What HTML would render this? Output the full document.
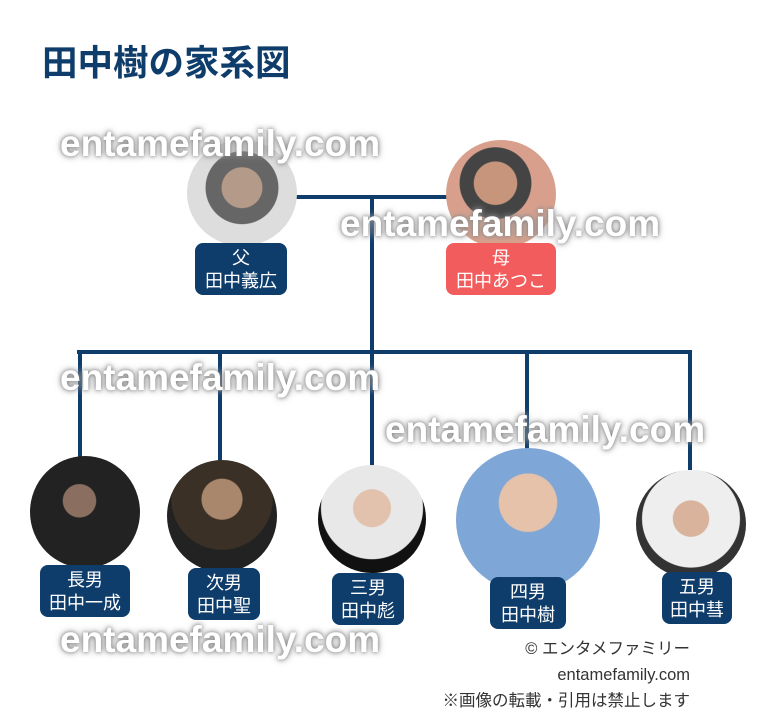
<!DOCTYPE html>
<html><head><meta charset="utf-8"><style>
body{margin:0;width:780px;height:727px;background:#fff;position:relative;overflow:hidden;font-family:"Liberation Sans","Noto Sans CJK JP",sans-serif}
.a{position:absolute}
.c{position:absolute;border-radius:50%;overflow:hidden}
.l{position:absolute;background:#0f3d6b;color:#fff;text-align:center;font-size:18px;line-height:23px;border-radius:8px;padding:3px 0;font-family:"Noto Sans CJK JP",sans-serif}
.r{background:#f25c5c}
.wm{position:absolute;font-size:37px;font-weight:bold;color:#fff;text-shadow:0 0 4px #777,0 0 8px #aaa;font-family:"Liberation Sans",sans-serif}
.ln{position:absolute;background:#0f3d6b}
</style></head><body>
<div class="a" style="left:42px;top:36px;font-size:35.5px;font-weight:bold;color:#0f3d6b;font-family:'Noto Sans CJK JP',sans-serif;line-height:50px">田中樹の家系図</div>
<div class="ln" style="left:290px;top:195px;width:160px;height:4px"></div>
<div class="ln" style="left:370px;top:195px;width:4px;height:160px"></div>
<div class="ln" style="left:77px;top:350px;width:615px;height:4px"></div>
<div class="ln" style="left:78px;top:350px;width:4px;height:110px"></div>
<div class="ln" style="left:218px;top:350px;width:4px;height:115px"></div>
<div class="ln" style="left:370px;top:350px;width:4px;height:120px"></div>
<div class="ln" style="left:525px;top:350px;width:4px;height:100px"></div>
<div class="ln" style="left:688px;top:350px;width:4px;height:120px"></div>
<div class="c" style="left:187px;top:140px;width:110px;height:106px;background:radial-gradient(circle at 50% 45%,#b49a88 0 25%,#666 26% 45%,#ddd 46%)"></div>
<div class="c" style="left:446px;top:140px;width:110px;height:108px;background:radial-gradient(circle at 45% 40%,#c7957c 0 24%,#444 25% 40%,#d8a08c 41%)"></div>
<div class="c" style="left:30px;top:456px;width:110px;height:112px;background:radial-gradient(circle at 45% 40%,#8a6e60 0 18%,#222 19%)"></div>
<div class="c" style="left:167px;top:460px;width:110px;height:112px;background:radial-gradient(circle at 50% 35%,#a8876c 0 22%,#3a3026 23% 55%,#222 56%)"></div>
<div class="c" style="left:318px;top:465px;width:108px;height:108px;background:radial-gradient(circle at 50% 40%,#e2c2ad 0 22%,#e8e8e8 23% 60%,#111 61%)"></div>
<div class="c" style="left:456px;top:448px;width:144px;height:144px;background:radial-gradient(circle at 50% 38%,#e6c2aa 0 25%,#7ea6d6 26%)"></div>
<div class="c" style="left:636px;top:470px;width:110px;height:108px;background:radial-gradient(circle at 50% 45%,#d9b39c 0 22%,#eee 23% 60%,#333 61%)"></div>
<div class="l" style="left:195px;top:243px;width:92px">父<br>田中義広</div>
<div class="l r" style="left:446px;top:243px;width:110px">母<br>田中あつこ</div>
<div class="l" style="left:40px;top:565px;width:90px">長男<br>田中一成</div>
<div class="l" style="left:188px;top:568px;width:72px">次男<br>田中聖</div>
<div class="l" style="left:332px;top:573px;width:72px">三男<br>田中彪</div>
<div class="l" style="left:490px;top:577px;width:76px">四男<br>田中樹</div>
<div class="l" style="left:662px;top:572px;width:70px">五男<br>田中彗</div>
<div class="wm" style="left:60px;top:123px">entamefamily.com</div>
<div class="wm" style="left:340px;top:203px">entamefamily.com</div>
<div class="wm" style="left:60px;top:357px">entamefamily.com</div>
<div class="wm" style="left:385px;top:409px">entamefamily.com</div>
<div class="wm" style="left:60px;top:619px">entamefamily.com</div>
<div class="a" style="right:90px;top:636px;text-align:right;font-size:16.5px;line-height:26px;color:#333">© エンタメファミリー<br>entamefamily.com<br>※画像の転載・引用は禁止します</div>
</body></html>
